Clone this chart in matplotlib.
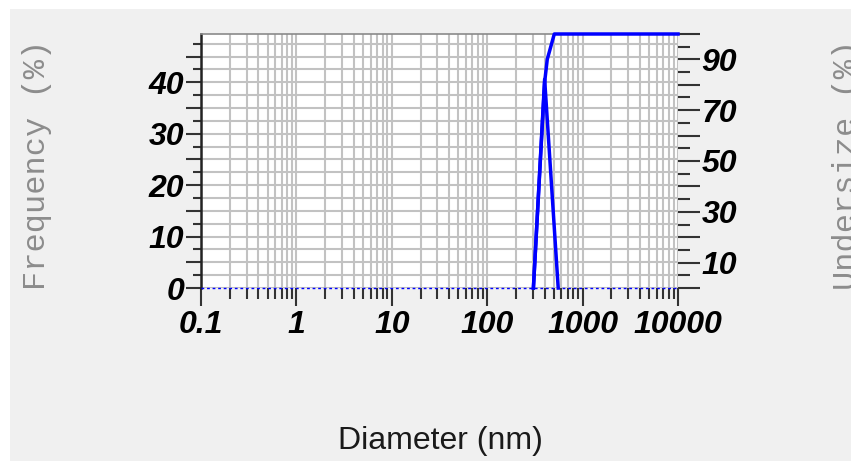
import matplotlib
matplotlib.use('Agg')
import matplotlib.pyplot as plt
from matplotlib.patches import Rectangle
from matplotlib.ticker import FixedLocator, LogLocator, MultipleLocator, FuncFormatter, NullFormatter

# size distribution
diam_freq = [305, 400, 555]
freq = [0, 40.6, 0]
diam_cum = [305, 400, 426, 505, 10000]
cum = [0, 81, 90, 100, 100]

x_ticks = [0.1, 1, 10, 100, 1000, 10000]
x_labels = ['0.1', '1', '10', '100', '1000', '10000']
freq_labels = [0, 10, 20, 30, 40]
cum_labels = [10, 30, 50, 70, 90]

blue = '#0000ff'
tick_font = dict(family='Liberation Sans', weight='bold', style='italic')

W, H = 851, 461
fig = plt.figure(figsize=(W / 100, H / 100), dpi=100)
fig.patch.set_facecolor('white')
fig.patches.append(Rectangle((10 / W, 0), 1, (H - 9) / H, transform=fig.transFigure,
                             facecolor='#f0f0f0', edgecolor='none', zorder=-10))

ax = fig.add_axes([201 / W, 1 - 288 / H, (678 - 201) / W, (288 - 34) / H])
ax.set_xscale('log')
ax.set_xlim(0.1, 10000)
ax.set_ylim(0, 49.4)

ax.xaxis.set_major_locator(FixedLocator(x_ticks))
ax.set_xticklabels(x_labels)
ax.xaxis.set_minor_locator(LogLocator(base=10, subs=range(2, 10), numticks=30))
ax.xaxis.set_minor_formatter(NullFormatter())

ax.yaxis.set_major_locator(MultipleLocator(5))
ax.yaxis.set_major_formatter(FuncFormatter(
    lambda v, p: str(int(round(v))) if int(round(v)) in freq_labels else ''))
ax.yaxis.set_minor_locator(MultipleLocator(2.5))

ax.grid(True, which='both', color='#c2c2c2', lw=1.5, zorder=0)
ax.set_axisbelow(True)

ax.tick_params(axis='x', which='major', length=13, width=1.5, color='#333333', pad=3)
ax.tick_params(axis='x', which='minor', length=8, width=1.5, color='#333333')
ax.tick_params(axis='y', which='major', length=11, width=1.5, color='#333333', pad=1)
ax.tick_params(axis='y', which='minor', length=6, width=1.5, color='#333333')
for lab in ax.get_xticklabels():
    lab.set(size=23, **tick_font)
for lab in ax.get_yticklabels():
    lab.set(size=23, **tick_font)

ax.spines['right'].set_visible(False)
ax.spines['bottom'].set_visible(False)
ax.spines['top'].set_color('#8a8a8a')
ax.spines['top'].set_linewidth(1.2)
ax.spines['left'].set_color('#222222')
ax.spines['left'].set_linewidth(1.8)

ax.axhline(0, color=blue, lw=1.0, ls=(0, (2, 2)), clip_on=False, zorder=3)
ax.plot(diam_freq, freq, color=blue, lw=2.5, clip_on=False, zorder=4)

ax2 = ax.twinx()
ax2.set_ylim(0, 100)
ax2.yaxis.set_major_locator(MultipleLocator(10))
ax2.yaxis.set_major_formatter(FuncFormatter(
    lambda v, p: str(int(round(v))) if int(round(v)) in cum_labels else ''))
ax2.yaxis.set_minor_locator(MultipleLocator(5))
ax2.tick_params(axis='y', which='major', length=16, width=1.5, color='#333333', pad=1)
ax2.tick_params(axis='y', which='minor', length=8.5, width=1.5, color='#333333')
for lab in ax2.get_yticklabels():
    lab.set(size=23, **tick_font)
for s in ax2.spines.values():
    s.set_visible(False)
ax2.plot(diam_cum, cum, color=blue, lw=2.5, clip_on=False, zorder=4)

fig.text(440 / W, 1 - 441 / H, 'Diameter (nm)', family='Liberation Sans', size=23,
         color='#1a1a1a', ha='center', va='center')
fig.text(37 / W, 1 - 165 / H, 'Frequency (%)', family='Liberation Mono', size=23,
         color='#8c8c8c', rotation=90, ha='center', va='center')
# cut by the right edge, as in the source screenshot
fig.text(847 / W, 1 - 165 / H, 'Undersize (%)', family='Liberation Mono', size=23,
         color='#8c8c8c', rotation=90, ha='center', va='center')

fig.savefig('out.png', dpi=100)
